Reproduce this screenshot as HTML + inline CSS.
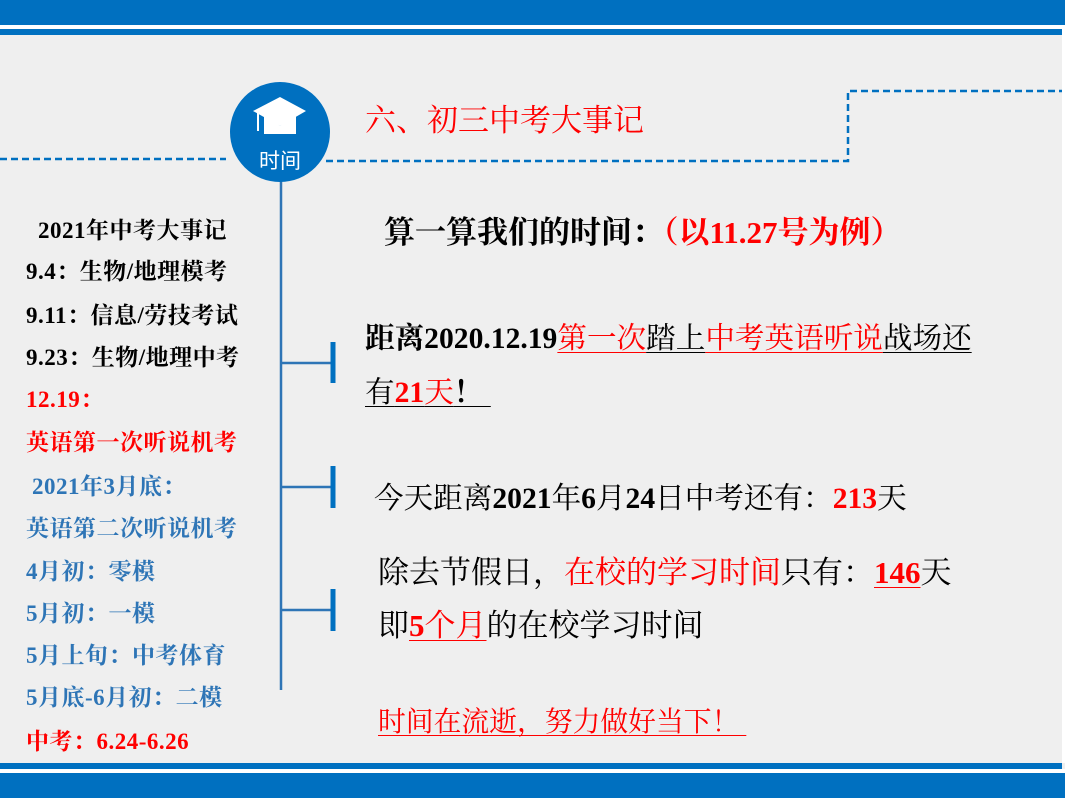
<!DOCTYPE html>
<html><head><meta charset="utf-8">
<style>
body{margin:0;width:1065px;height:798px;overflow:hidden;background:#fff;position:relative;font-family:"Liberation Serif","Noto Serif CJK SC",serif}
.abs{position:absolute;white-space:nowrap}
.l{position:absolute;left:26px;font-size:23px;letter-spacing:0.5px;font-weight:bold;line-height:26px;white-space:nowrap}
.t{position:absolute;font-size:26px;line-height:34px;color:#000;white-space:nowrap}
.r{color:#ff0000 !important}.b{color:#2e75b6}.k{color:#000}
.u{text-decoration:underline;text-decoration-thickness:1px;text-underline-offset:4px}
</style></head><body>
<div class="abs" style="left:0;top:0;width:1065px;height:798px;background:#efefef"></div>
<div class="abs" style="left:1062px;top:25px;width:3px;height:738px;background:#fff"></div>
<div class="abs" style="left:0;top:0;width:1065px;height:25px;background:#0070c0"></div>
<div class="abs" style="left:0;top:25px;width:1065px;height:4px;background:#fff"></div>
<div class="abs" style="left:0;top:29px;width:1062px;height:6px;background:#0070c0"></div>
<div class="abs" style="left:0;top:763px;width:1062px;height:6px;background:#0070c0"></div>
<div class="abs" style="left:0;top:769px;width:1065px;height:4px;background:#fff"></div>
<div class="abs" style="left:0;top:773px;width:1065px;height:25px;background:#0070c0"></div>

<svg class="abs" style="left:0;top:0" width="1065" height="798">
<g stroke="#0070c0" stroke-width="2.5" fill="none" stroke-dasharray="7,4">
<line x1="0" y1="159" x2="226" y2="159"/>
<polyline points="326,161 848,161 848,91 1062,91"/>
</g>
<line x1="281" y1="180" x2="281" y2="690" stroke="#2e75b6" stroke-width="2.5"/>
<g stroke="#2e75b6" stroke-width="2.5"><line x1="282" y1="363" x2="332" y2="363"/><line x1="282" y1="487" x2="332" y2="487"/><line x1="282" y1="610" x2="332" y2="610"/></g>
<g stroke="#0070c0" stroke-width="5"><line x1="333" y1="342" x2="333" y2="383"/><line x1="333" y1="466" x2="333" y2="508"/><line x1="333" y1="589" x2="333" y2="631"/></g>
<circle cx="280" cy="132" r="50" fill="#0070c0"/>
<polygon points="253,111 280,97 306,111 280,126" fill="#fff"/>
<path d="M264,113 L280,126 L296,113 L296,134 L264,134 Z" fill="#fff"/>
<line x1="258" y1="112" x2="258" y2="131" stroke="#fff" stroke-width="2"/>
<text x="280" y="168" fill="#fff" font-size="21" text-anchor="middle" font-family="Noto Sans CJK SC,sans-serif">时间</text>
</svg>

<div class="abs" style="left:365px;top:102px;font-size:31px;color:#ff0000;line-height:38px">六、初三中考大事记</div>

<div class="l k" style="top:218px;left:38px">2021年中考大事记</div>
<div class="l k" style="top:259px">9.4：生物/地理模考</div>
<div class="l k" style="top:303px">9.11：信息/劳技考试</div>
<div class="l k" style="top:345px">9.23：生物/地理中考</div>
<div class="l r" style="top:387px">12.19：</div>
<div class="l r" style="top:430px">英语第一次听说机考</div>
<div class="l b" style="top:474px;left:32px">2021年3月底：</div>
<div class="l b" style="top:516px">英语第二次听说机考</div>
<div class="l b" style="top:559px">4月初：零模</div>
<div class="l b" style="top:601px">5月初：一模</div>
<div class="l b" style="top:643px">5月上旬：中考体育</div>
<div class="l b" style="top:685px">5月底-6月初：二模</div>
<div class="l r" style="top:729px">中考：<b>6.24-6.26</b></div>

<div class="t" style="left:384px;top:216px;font-size:31px;font-weight:bold">算一算我们的时间：<span class="r">（以11.27号为例）</span></div>
<div class="t" style="left:365px;top:322px;font-size:29.6px"><b>距离2020.12.19</b><span class="r u">第一次</span><span class="u">踏上</span><span class="r u">中考英语听说</span><span class="u">战场还</span></div>
<div class="t" style="left:365px;top:376px;font-size:29.6px"><span class="u">有<b class="r">21</b><span class="r">天</span><b>！&nbsp;</b></span></div>
<div class="t" style="left:374px;top:482px;font-size:29.6px">今天距离<b>2021</b>年<b>6</b>月<b>24</b>日中考还有：<b class="r">213</b>天</div>
<div class="t" style="left:378px;top:556px;font-size:31px">除去节假日，<span class="r">在校的学习时间</span>只有：<b class="r u">146</b>天</div>
<div class="t" style="left:378px;top:609px;font-size:31px">即<span class="r u"><b>5</b>个月</span>的在校学习时间</div>
<div class="t u r" style="left:378px;top:706px;font-size:27.8px">时间在流逝，努力做好当下！&nbsp;</div>
</body></html>
